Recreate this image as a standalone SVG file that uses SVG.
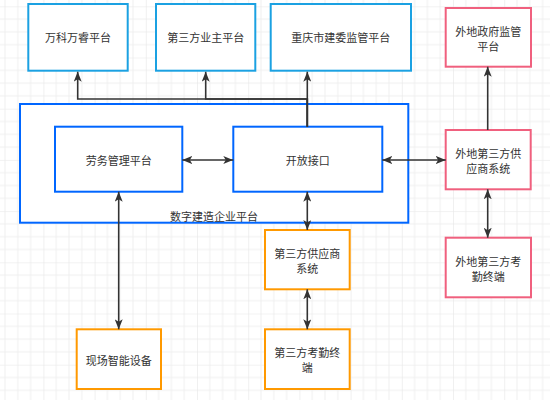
<svg xmlns="http://www.w3.org/2000/svg" width="550" height="400" viewBox="0 0 550 400">
<defs>
<pattern id="grid" x="-7.8" y="6.3" width="51.2" height="51.2" patternUnits="userSpaceOnUse">
<path d="M12.8,0V51.2M25.6,0V51.2M38.4,0V51.2M0,12.8H51.2M0,25.6H51.2M0,38.4H51.2" stroke="#f0f0f0" stroke-width="1" fill="none"/>
<path d="M0,0V51.2M0,0H51.2" stroke="#e6e6e6" stroke-width="1.2" fill="none"/>
</pattern>
<marker id="arr" viewBox="0 0 10 8" refX="10" refY="4" markerWidth="10" markerHeight="8" markerUnits="userSpaceOnUse" orient="auto-start-reverse">
<path d="M0,0 L10,4 L0,8 L2.5,4 Z" fill="#333333"/>
</marker>
<style>
.sky{fill:#ffffff;stroke:#1ba1e2;stroke-width:2}
.blue{fill:#ffffff;stroke:#0066ff;stroke-width:2}
.pink{fill:#ffffff;stroke:#f0607e;stroke-width:2}
.orange{fill:#ffffff;stroke:#ff9900;stroke-width:2}
text{font-family:"Noto Sans CJK SC","Liberation Sans",sans-serif;font-size:11px;fill:#333333;text-anchor:middle;dominant-baseline:central}
.edge{fill:none;stroke:#333333;stroke-width:1.6}
.one{marker-end:url(#arr)}
.two{marker-start:url(#arr);marker-end:url(#arr)}
</style>
</defs>
<rect x="0" y="0" width="550" height="400" fill="#ffffff"/>
<rect x="0" y="0" width="550" height="400" fill="url(#grid)"/>

<g id="node-container">
<rect class="blue" x="20" y="104" width="388.3" height="118.7"/>
<text x="214" y="216">数字建造企业平台</text>
</g>
<g id="node-wanke">
<rect class="sky" x="28.3" y="4" width="99.4" height="66.7"/>
<text x="78" y="37.3">万科万睿平台</text>
</g>
<g id="node-yezhu">
<rect class="sky" x="156" y="4" width="99.3" height="66.7"/>
<text x="205.7" y="37.3">第三方业主平台</text>
</g>
<g id="node-chongqing">
<rect class="sky" x="270.7" y="4" width="140.3" height="66.7"/>
<text x="340.8" y="37.3">重庆市建委监管平台</text>
</g>
<g id="node-waidi-gov">
<rect class="pink" x="445.7" y="8" width="85.3" height="58.7"/>
<text x="488.3" y="30.8">外地政府监管</text>
<text x="488.3" y="45.8">平台</text>
</g>
<g id="node-laowu">
<rect class="blue" x="55" y="126.7" width="127.3" height="65"/>
<text x="118.7" y="160">劳务管理平台</text>
</g>
<g id="node-kaifang">
<rect class="blue" x="233.3" y="126.7" width="149" height="65"/>
<text x="307.8" y="160">开放接口</text>
</g>
<g id="node-waidi-supplier">
<rect class="pink" x="445.7" y="130" width="85" height="59.3"/>
<text x="488.2" y="153">外地第三方供</text>
<text x="488.2" y="168">应商系统</text>
</g>
<g id="node-waidi-kaoqin">
<rect class="pink" x="445.7" y="237.7" width="85.3" height="59.6"/>
<text x="488.3" y="260.8">外地第三方考</text>
<text x="488.3" y="275.8">勤终端</text>
</g>
<g id="node-supplier">
<rect class="orange" x="265" y="230" width="84.7" height="59.3"/>
<text x="307.3" y="253">第三方供应商</text>
<text x="307.3" y="268">系统</text>
</g>
<g id="node-kaoqin">
<rect class="orange" x="265" y="329.3" width="84.7" height="59.7"/>
<text x="307.3" y="352.2">第三方考勤终</text>
<text x="307.3" y="367.2">端</text>
</g>
<g id="node-xianchang">
<rect class="orange" x="76.7" y="329.3" width="84.3" height="59.7"/>
<text x="118.8" y="359.5">现场智能设备</text>
</g>

<g id="connectors">
<path class="edge one" d="M307.3,126.7 V99 H77.7 V71.7"/>
<path class="edge one" d="M307.3,126.7 V99 H205.7 V71.7"/>
<path class="edge one" d="M307.3,126.7 V71.7"/>
<path class="edge two" d="M182.3,160 H233.3"/>
<path class="edge two" d="M382.3,160 H445.7"/>
<path class="edge one" d="M487.7,130 V66.7"/>
<path class="edge two" d="M487.7,189.3 V237.7"/>
<path class="edge two" d="M307.3,191.7 V230"/>
<path class="edge two" d="M307.3,289.3 V329.3"/>
<path class="edge two" d="M118.7,191.7 V329.3"/>
</g>
</svg>
